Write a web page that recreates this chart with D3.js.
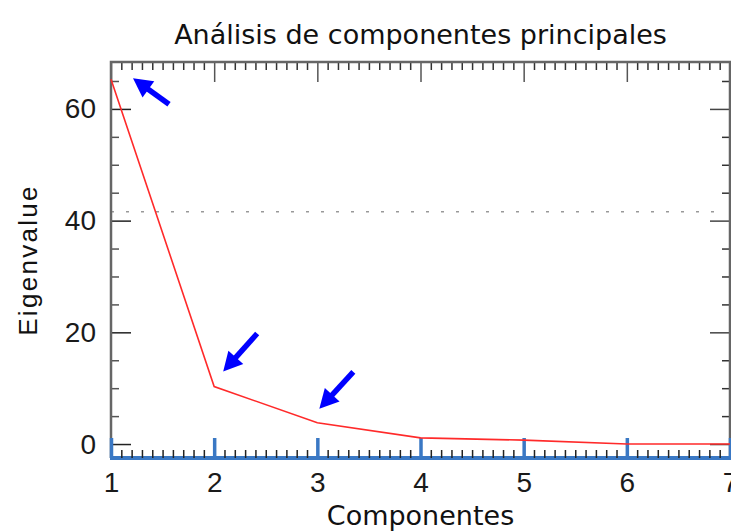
<!DOCTYPE html>
<html>
<head>
<meta charset="utf-8">
<script src="https://cdn.jsdelivr.net/npm/d3@7"></script>
<style>
  body { margin: 0; background: #fff; }
  svg { display: block; }
</style>
</head>
<body>
<div id="chart"></div>
<script>
const width = 731;
const height = 531;

// data
const components = [1, 2, 3, 4, 5, 6, 7];
const eigenvalues = [65.3, 10.3, 3.8, 1.1, 0.7, 0.0, 0.0];
const yTickLabels = [0, 20, 40, 60];
const cutoffValue = 41.6;           // dotted reference line
const marked = [1, 2, 3];            // components pointed at by the blue arrows

const plotLeft = 111, plotRight = 730, plotTop = 62, plotBottom = 458;

const x = d3.scaleLinear().domain([1, 7]).range([plotLeft, plotRight]);
const y = d3.scaleLinear().domain([-2.5, 68.4]).range([plotBottom, plotTop]);

const svg = d3.select("#chart")
    .append("svg")
    .attr("width", width)
    .attr("height", height);

const xMinor = d3.range(10, 71).map(d => d / 10).filter(d => d % 1 !== 0);
const yMinor = d3.range(0, 70, 5).filter(d => d % 20 !== 0);

// dotted reference line
svg.append("line")
    .attr("x1", plotLeft).attr("x2", plotRight - 8)
    .attr("y1", y(cutoffValue)).attr("y2", y(cutoffValue))
    .attr("stroke", "#999")
    .attr("stroke-width", 1.5)
    .attr("stroke-dasharray", "3,12");

function styleAxis(g, color, w) {
    g.select(".domain").remove();
    g.selectAll("line").attr("stroke", color).attr("stroke-width", w);
}

// top axis (ticks point down)
svg.append("g").attr("transform", `translate(0,${plotTop})`)
    .call(d3.axisTop(x).tickValues(xMinor).tickSize(-8).tickFormat(""))
    .call(g => styleAxis(g, "#333", 1.5));
svg.append("g").attr("transform", `translate(0,${plotTop})`)
    .call(d3.axisTop(x).tickValues(components).tickSize(-20).tickFormat(""))
    .call(g => styleAxis(g, "#555", 1.5));

// left axis
svg.append("g").attr("transform", `translate(${plotLeft},0)`)
    .call(d3.axisLeft(y).tickValues(yMinor).tickSize(-8).tickFormat(""))
    .call(g => styleAxis(g, "#555", 1.5));
svg.append("g").attr("transform", `translate(${plotLeft},0)`)
    .call(d3.axisLeft(y).tickValues(yTickLabels).tickSize(-20).tickPadding(15))
    .call(g => styleAxis(g, "#222", 1.5))
    .call(g => g.selectAll("text")
        .attr("font-family", "Liberation Sans, Arial, sans-serif")
        .attr("font-size", 28)
        .attr("fill", "#1a1a1a"));

// right axis
svg.append("g").attr("transform", `translate(${plotRight},0)`)
    .call(d3.axisRight(y).tickValues(yMinor).tickSize(-8).tickFormat(""))
    .call(g => styleAxis(g, "#333", 1.5));
svg.append("g").attr("transform", `translate(${plotRight},0)`)
    .call(d3.axisRight(y).tickValues(yTickLabels).tickSize(-20).tickFormat(""))
    .call(g => styleAxis(g, "#444", 1.5));

// frame
svg.append("path")
    .attr("d", `M${plotLeft},${plotBottom}V${plotTop}H${plotRight}V${plotBottom}`)
    .attr("fill", "none")
    .attr("stroke", "#666")
    .attr("stroke-width", 2.5);

// bottom axis (blue line, ticks point up)
svg.append("line")
    .attr("x1", plotLeft - 1).attr("x2", plotRight + 1)
    .attr("y1", plotBottom).attr("y2", plotBottom)
    .attr("stroke", "#3a78c4")
    .attr("stroke-width", 4);
svg.append("g").attr("transform", `translate(0,${plotBottom})`)
    .call(d3.axisBottom(x).tickValues(xMinor).tickSize(-8).tickFormat(""))
    .call(g => styleAxis(g, "#222", 1.5));
svg.append("g").attr("transform", `translate(0,${plotBottom})`)
    .call(d3.axisBottom(x).tickValues(components).tickSize(-20).tickPadding(14).tickFormat(d3.format("d")))
    .call(g => styleAxis(g, "#3a78c4", 3.5))
    .call(g => g.selectAll("text")
        .attr("font-family", "Liberation Sans, Arial, sans-serif")
        .attr("font-size", 28)
        .attr("fill", "#1a1a1a"));

// scree line
const line = d3.line()
    .x((d, i) => x(components[i]))
    .y(d => y(d));

svg.append("path")
    .datum(eigenvalues)
    .attr("d", line)
    .attr("fill", "none")
    .attr("stroke", "#ff2a2a")
    .attr("stroke-width", 1.6);

// blue arrows pointing at the first components
const arrowOffsets = [
    { tip: [22, -1], tail: [58, 25] },
    { tip: [9, -15], tail: [43, -53] },
    { tip: [2, -14], tail: [36, -51] }
];

marked.forEach(function(c, k) {
    const px = x(c), py = y(eigenvalues[components.indexOf(c)]);
    const o = arrowOffsets[k];
    const tip = [px + o.tip[0], py + o.tip[1]];
    const tail = [px + o.tail[0], py + o.tail[1]];
    const dx = tip[0] - tail[0], dy = tip[1] - tail[1];
    const len = Math.hypot(dx, dy);
    const ux = dx / len, uy = dy / len;
    const nx = -uy, ny = ux;
    const headLen = 19, headHalf = 10;
    const base = [tip[0] - ux * headLen, tip[1] - uy * headLen];

    svg.append("line")
        .attr("x1", tail[0]).attr("y1", tail[1])
        .attr("x2", base[0] + ux * 2).attr("y2", base[1] + uy * 2)
        .attr("stroke", "#0000ff")
        .attr("stroke-width", 5.5);

    svg.append("path")
        .attr("d", `M${tip[0]},${tip[1]}L${base[0] + nx * headHalf},${base[1] + ny * headHalf}L${base[0] - nx * headHalf},${base[1] - ny * headHalf}Z`)
        .attr("fill", "#0000ff");
});

// title
svg.append("text")
    .attr("x", (plotLeft + plotRight) / 2)
    .attr("y", 44)
    .attr("text-anchor", "middle")
    .style("font-family", "DejaVu Sans")
    .style("font-size", "27px")
    .attr("fill", "#111")
    .text("Análisis de componentes principales");

// x axis label
svg.append("text")
    .attr("x", (plotLeft + plotRight) / 2)
    .attr("y", 525)
    .attr("text-anchor", "middle")
    .style("font-family", "DejaVu Sans")
    .style("font-size", "27px")
    .attr("fill", "#111")
    .text("Componentes");

// y axis label
svg.append("text")
    .attr("transform", `translate(37,${(plotTop + plotBottom) / 2}) rotate(-90)`)
    .attr("text-anchor", "middle")
    .style("font-family", "Liberation Sans, Arial, sans-serif")
    .style("font-size", "26px")
    .style("letter-spacing", "2.3px")
    .attr("fill", "#111")
    .text("Eigenvalue");
</script>
</body>
</html>
